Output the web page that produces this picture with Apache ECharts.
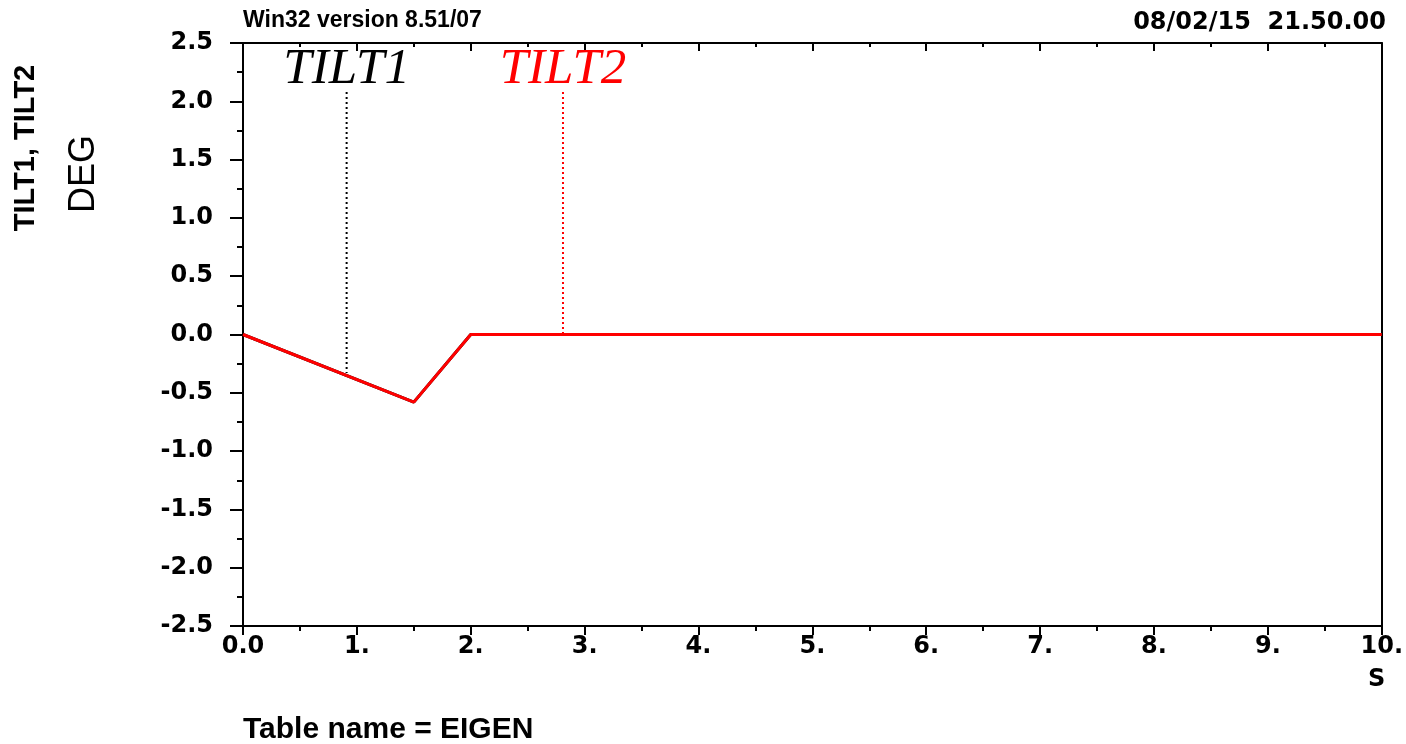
<!DOCTYPE html>
<html>
<head>
<meta charset="utf-8">
<title>TILT1, TILT2</title>
<script src="https://cdn.jsdelivr.net/npm/echarts@6/dist/echarts.min.js"></script>
<style>
  html, body { margin: 0; padding: 0; background: #ffffff; }
  #chart { width: 1406px; height: 744px; }
</style>
</head>
<body>
<div id="chart"></div>
<script>
// Time axis (s) and tilt angles (deg)
const timeS = [0, 1.5, 2.0, 10];
const tilt1 = [0, -0.58, 0, 0];
const tilt2 = [0, -0.58, 0, 0];

// Curve labels: name, x position (s), top of leader line, curve value at x
const markerNames = ['TILT1', 'TILT2'];
const markerColors = ['#000000', '#ff0000'];
const markerX = [0.91, 2.81];
const markerTop = [2.08, 2.08];
const markerBottom = [-0.33, 0.0];

// Axis ranges
const xRange = [0, 10];
const yRange = [-2.5, 2.5];
const xStep = 1;
const yStep = 0.5;

const headerLeft = 'Win32 version 8.51/07';
const headerRight = '08/02/15  21.50.00';
const xUnit = 'S';
const yName = 'TILT1, TILT2';
const yUnit = 'DEG';
const footer = 'Table name = EIGEN';

const pairs = (xs, ys) => xs.map((x, i) => [x, ys[i]]);

const boldSans = 'Liberation Sans, Arial, sans-serif';
const digitFont = 'DejaVu Sans, sans-serif';

const chart = echarts.init(document.getElementById('chart'), null, { renderer: 'canvas' });

// Dotted leader lines with the curve name written above the top end
const markerSeries = markerNames.map((name, i) => ({
  name: name + ' label',
  type: 'line',
  xAxisIndex: 0,
  yAxisIndex: 0,
  data: [
    { value: [markerX[i], markerTop[i]], label: {
        show: true, position: 'top', distance: -3,
        formatter: name,
        color: markerColors[i],
        fontFamily: 'Liberation Serif, Times New Roman, serif',
        fontStyle: 'italic', fontSize: 51, lineHeight: 51
      } },
    { value: [markerX[i], markerBottom[i]], label: { show: false } }
  ],
  symbol: 'circle',
  symbolSize: 0,
  showSymbol: true,
  itemStyle: { color: markerColors[i] },
  silent: true,
  animation: false,
  lineStyle: { color: markerColors[i], width: 2, type: [2, 3] },
  z: 1
}));

const axisLineStyle = { show: true, onZero: false, lineStyle: { color: '#000', width: 2 } };

chart.setOption({
  backgroundColor: '#ffffff',
  animation: false,
  grid: { left: 243, right: 19, top: 43, bottom: 118, containLabel: false },
  title: [
    { text: headerLeft, left: 243, top: 9, padding: 0,
      textStyle: { fontFamily: boldSans, fontWeight: 'bold', fontSize: 23, color: '#000' } },
    { text: headerRight, right: 20, top: 11, padding: 0,
      textStyle: { fontFamily: digitFont, fontWeight: 'bold', fontSize: 24, color: '#000' } },
    { text: xUnit, left: 1368, top: 668, padding: 0,
      textStyle: { fontFamily: digitFont, fontWeight: 'bold', fontSize: 24, color: '#000' } },
    { text: footer, left: 243, top: 715, padding: 0,
      textStyle: { fontFamily: boldSans, fontWeight: 'bold', fontSize: 30, color: '#000' } }
  ],
  graphic: [
    { type: 'text', x: 26, y: 148, rotation: Math.PI / 2,
      style: { text: yName, font: 'bold 29px ' + boldSans, fill: '#000',
               textAlign: 'center', textVerticalAlign: 'middle' } },
    { type: 'text', x: 84, y: 174, rotation: Math.PI / 2,
      style: { text: yUnit, font: '36px ' + boldSans, fill: '#000',
               textAlign: 'center', textVerticalAlign: 'middle' } }
  ],
  xAxis: [
    {
      type: 'value', position: 'bottom', min: xRange[0], max: xRange[1], interval: xStep,
      axisLine: axisLineStyle,
      axisTick: { show: true, inside: false, length: 9, lineStyle: { color: '#000', width: 2 } },
      minorTick: { show: true, splitNumber: 2, length: 5, lineStyle: { color: '#000', width: 2 } },
      splitLine: { show: false },
      axisLabel: {
        margin: 9, color: '#000', fontFamily: digitFont, fontWeight: 'bold', fontSize: 24,
        formatter: v => (v === 0 ? '0.0' : v + '.')
      }
    },
    {
      type: 'value', position: 'top', min: xRange[0], max: xRange[1], interval: xStep,
      axisLine: axisLineStyle,
      axisTick: { show: true, inside: true, length: 8, lineStyle: { color: '#000', width: 2 } },
      minorTick: { show: true, splitNumber: 2, length: 4, lineStyle: { color: '#000', width: 2 } },
      splitLine: { show: false },
      axisLabel: { show: false }
    }
  ],
  yAxis: [
    {
      type: 'value', position: 'left', min: yRange[0], max: yRange[1], interval: yStep,
      axisLine: axisLineStyle,
      axisTick: { show: true, inside: false, length: 13, lineStyle: { color: '#000', width: 2 } },
      minorTick: { show: true, splitNumber: 2, length: 6, lineStyle: { color: '#000', width: 2 } },
      splitLine: { show: false },
      axisLabel: {
        margin: 30, color: '#000', fontFamily: digitFont, fontWeight: 'bold', fontSize: 24,
        formatter: v => v.toFixed(1)
      }
    },
    {
      type: 'value', position: 'right', min: yRange[0], max: yRange[1], interval: yStep,
      axisLine: axisLineStyle,
      axisTick: { show: false },
      minorTick: { show: false },
      splitLine: { show: false },
      axisLabel: { show: false }
    }
  ],
  series: [
    ...markerSeries,
    {
      name: 'TILT1', type: 'line', data: pairs(timeS, tilt1),
      symbol: 'none', lineStyle: { color: '#000000', width: 3 }, z: 2
    },
    {
      name: 'TILT2', type: 'line', data: pairs(timeS, tilt2),
      symbol: 'none', lineStyle: { color: '#ff0000', width: 3 }, z: 3
    }
  ]
});
</script>
</body>
</html>
